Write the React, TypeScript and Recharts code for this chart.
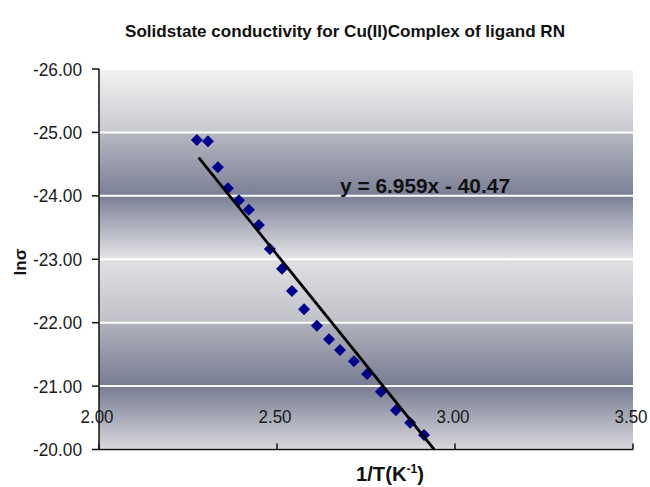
import React from 'react';
import { ComposedChart, Scatter, XAxis, YAxis, CartesianGrid } from 'recharts';

// 1/T (x10^-3 K^-1) values
const invT = [
  2.275, 2.306, 2.334, 2.362, 2.393, 2.421, 2.449, 2.48, 2.514, 2.542,
  2.576, 2.612, 2.646, 2.677, 2.716, 2.753, 2.792, 2.834, 2.874, 2.913,
];
// ln(sigma) values
const lnSigma = [
  -24.88, -24.86, -24.45, -24.12, -23.93, -23.78, -23.54, -23.16, -22.85, -22.5,
  -22.21, -21.95, -21.74, -21.57, -21.39, -21.19, -20.91, -20.62, -20.42, -20.23,
];
const xTicks = [2.0, 2.5, 3.0, 3.5];
const yTicks = [-26, -25, -24, -23, -22, -21, -20];
const slope = 6.959;
const intercept = -40.47;
const trendRange = [2.28, 2.9415];

const points = invT.map((x, i) => ({ x, y: lnSigma[i] }));
const trend = trendRange.map((x) => ({ x, y: slope * x + intercept }));

const SANS = "'Liberation Sans', Arial, sans-serif";
const NARROW = "'Liberation Sans Narrow', 'Arial Narrow', 'Liberation Sans', Arial, sans-serif";

const Diamond = (props: any) => {
  const { cx, cy } = props;
  if (cx == null || cy == null) return <g />;
  const r = 6;
  return (
    <path
      d={`M${cx},${cy - r} L${cx + r},${cy} L${cx},${cy + r} L${cx - r},${cy} Z`}
      fill="#00008f"
    />
  );
};

const NoShape = () => <g />;

const XTick = (props: any) => {
  const { x, y, payload } = props;
  return (
    <g>
      <line x1={x} y1={y} x2={x} y2={y - 6} stroke="#111" strokeWidth={1.5} />
      <text
        x={x - 2}
        y={y - 33}
        textAnchor="middle"
        dominantBaseline="central"
        fontSize={19}
        fontFamily={SANS}
        fill="#1a1a1a"
        textLength={33}
        lengthAdjust="spacingAndGlyphs"
      >
        {Number(payload.value).toFixed(2)}
      </text>
    </g>
  );
};

const YTick = (props: any) => {
  const { x, y, payload } = props;
  return (
    <text
      x={x}
      y={y}
      textAnchor="end"
      dominantBaseline="central"
      fontSize={19}
      fontFamily={SANS}
      fill="#1a1a1a"
      textLength={49}
      lengthAdjust="spacingAndGlyphs"
    >
      {Number(payload.value).toFixed(2)}
    </text>
  );
};

export default function App() {
  return (
    <div style={{ position: 'absolute', left: 0, top: 0, width: 650, height: 487, background: '#fff' }}>
      <svg width={0} height={0} style={{ position: 'absolute' }}>
        <defs>
          <linearGradient id="bgGrad" x1="0" y1="0" x2="0" y2="1">
            <stop offset="0" stopColor="#f3f3f3" />
            <stop offset="0.1666" stopColor="#c8c9cf" />
            <stop offset="0.1667" stopColor="#b6b8c1" />
            <stop offset="0.3333" stopColor="#7b7f95" />
            <stop offset="0.5" stopColor="#e6e6e8" />
            <stop offset="0.5001" stopColor="#e0e0e3" />
            <stop offset="0.6666" stopColor="#c0c1c8" />
            <stop offset="0.6667" stopColor="#b0b2bc" />
            <stop offset="0.8333" stopColor="#787c92" />
            <stop offset="1" stopColor="#d8d8dc" />
          </linearGradient>
        </defs>
      </svg>
      <ComposedChart
        width={650}
        height={487}
        margin={{ top: 69, right: 17, left: 0, bottom: 0 }}
      >
        <CartesianGrid
          vertical={false}
          stroke="#ffffff"
          strokeWidth={2}
          fill="url(#bgGrad)"
          fillOpacity={1}
        />
        <XAxis
          type="number"
          dataKey="x"
          domain={[2, 3.5]}
          ticks={xTicks}
          interval={0}
          allowDataOverflow
          height={37.5}
          tickSize={0}
          tickMargin={0}
          tickLine={false}
          axisLine={{ stroke: '#111', strokeWidth: 1.5 }}
          tick={<XTick />}
        />
        <YAxis
          type="number"
          dataKey="y"
          domain={[-26, -20]}
          reversed
          ticks={yTicks}
          interval={0}
          allowDataOverflow
          width={99}
          tickSize={7}
          tickMargin={10}
          tickLine={{ stroke: '#111', strokeWidth: 1.5 }}
          axisLine={{ stroke: '#111', strokeWidth: 1.5 }}
          tick={<YTick />}
        />
        <Scatter data={points} shape={<Diamond />} isAnimationActive={false} />
        <Scatter
          data={trend}
          line={{ stroke: '#000', strokeWidth: 2.8 }}
          shape={<NoShape />}
          isAnimationActive={false}
        />
      </ComposedChart>
      <svg
        width={650}
        height={487}
        style={{ position: 'absolute', left: 0, top: 0, pointerEvents: 'none' }}
      >
        <text
          x={345}
          y={37}
          textAnchor="middle"
          fontSize={17}
          fontWeight="bold"
          fontFamily={NARROW}
          fill="#111"
          textLength={440}
          lengthAdjust="spacingAndGlyphs"
        >
          Solidstate conductivity for Cu(II)Complex of ligand RN
        </text>
        <text
          x={340}
          y={193}
          fontSize={20}
          fontWeight="bold"
          fontFamily={NARROW}
          fill="#111"
          textLength={170}
          lengthAdjust="spacingAndGlyphs"
        >
          y = 6.959x - 40.47
        </text>
        <text
          x={0}
          y={0}
          transform="translate(26,262) rotate(-90)"
          textAnchor="middle"
          fontSize={17}
          fontWeight="bold"
          fontFamily={SANS}
          fill="#111"
        >
          lnσ
        </text>
        <text
          x={356}
          y={481}
          fontSize={20}
          fontWeight="bold"
          fontFamily={NARROW}
          fill="#111"
          textLength={68}
          lengthAdjust="spacingAndGlyphs"
        >
          1/T(K<tspan fontSize={12} dy={-8}>-1</tspan><tspan dy={8}>)</tspan>
        </text>
      </svg>
    </div>
  );
}
